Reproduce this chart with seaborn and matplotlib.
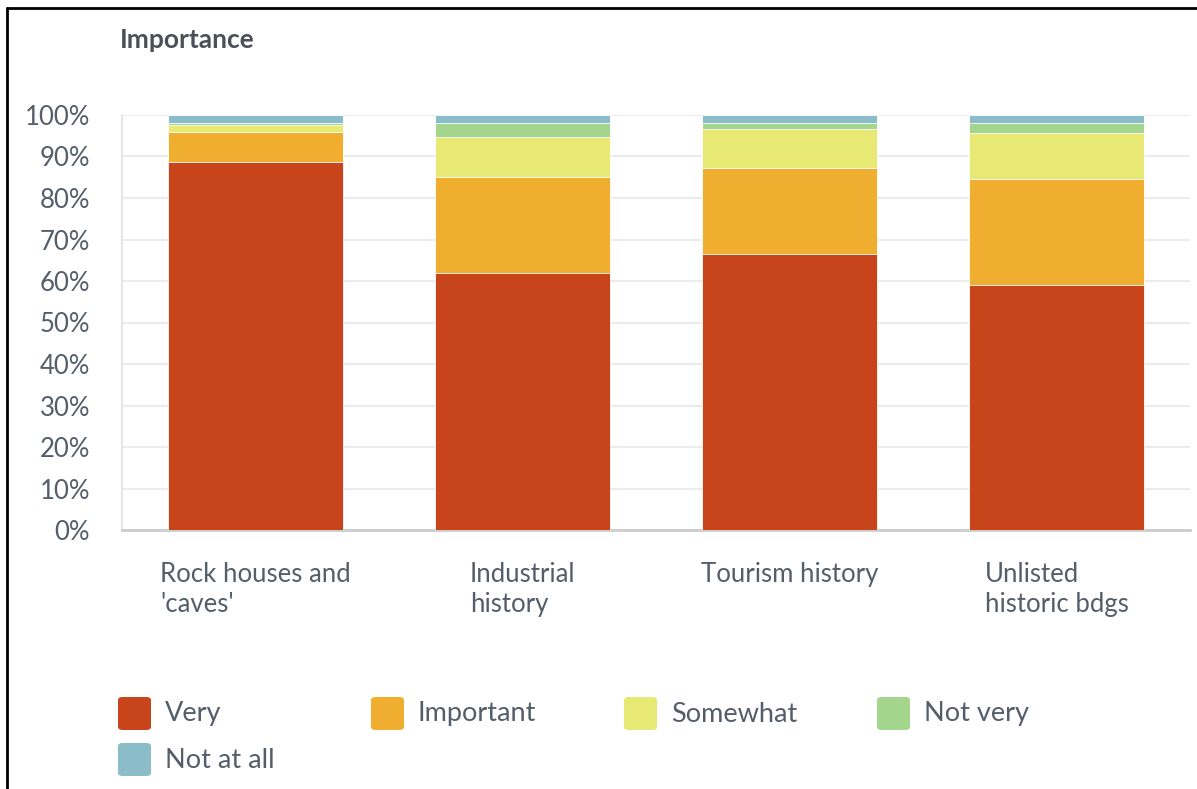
import matplotlib
matplotlib.use("Agg")
import matplotlib.pyplot as plt
from matplotlib.patches import FancyBboxPatch
from matplotlib.lines import Line2D
import seaborn as sns
import pandas as pd

categories = ["Rock houses and\n'caves'", "Industrial\nhistory", "Tourism history", "Unlisted\nhistoric bdgs"]
levels = ["Very", "Important", "Somewhat", "Not very", "Not at all"]
very = [88.7, 61.9, 66.5, 59.0]
important = [7.3, 23.2, 20.7, 25.5]
somewhat = [1.6, 9.5, 9.4, 11.1]
not_very = [0.4, 3.5, 1.5, 2.5]
not_at_all = [2.0, 1.9, 1.9, 1.9]
colors = ["#C8441A", "#F0AE30", "#E8E874", "#A3D68C", "#8BBDC8"]
yticks = [0, 10, 20, 30, 40, 50, 60, 70, 80, 90, 100]

series = [very, important, somewhat, not_very, not_at_all]

sns.set_theme(style="white")
plt.rcParams["font.family"] = ["Lato", "DejaVu Sans"]
text_color = "#545E6A"
fs = 18.5

W, H = 1197, 789
fig = plt.figure(figsize=(W / 100, H / 100), dpi=100)
ax = fig.add_axes([122 / W, 1 - 530 / H, (1190 - 122) / W, (530 - 115) / H])

# cumulative tops
rows = []
for i, cat in enumerate(categories):
    cum = 0
    for lvl, vals in zip(levels, series):
        cum += vals[i]
        rows.append({"cat": cat, "level": lvl, "top": cum})
df = pd.DataFrame(rows)

for lvl, col in reversed(list(zip(levels, colors))):
    sub = df[df["level"] == lvl]
    sns.barplot(data=sub, x="cat", y="top", color=col, width=0.655,
                order=categories, ax=ax, saturation=1, edgecolor="white",
                linewidth=0.6, zorder=3)

ax.set_ylim(0, 100)
ax.set_xlim(-0.5, len(categories) - 0.5)
ax.set_yticks(yticks)
ax.set_yticklabels([f"{v}%" for v in yticks])
ax.set_xlabel("")
ax.set_ylabel("")
ax.yaxis.grid(True, color="#EBEBEB", linewidth=1.5, zorder=0)
ax.set_axisbelow(True)
for s in ["top", "right"]:
    ax.spines[s].set_visible(False)
ax.spines["left"].set_color("#E6E6E6")
ax.spines["left"].set_linewidth(1.5)
ax.spines["bottom"].set_color("#CCCCCC")
ax.spines["bottom"].set_linewidth(2)
ax.tick_params(axis="y", length=0, pad=23, labelsize=fs, labelcolor=text_color)
ax.tick_params(axis="x", length=0, pad=23, labelsize=fs, labelcolor=text_color)
for lab in ax.get_xticklabels():
    lab.set_multialignment("left")
    lab.set_linespacing(1.25)
    lab.set_verticalalignment("top")

fig.text(120 / W, 1 - 40 / H, "Importance", fontsize=19, fontweight="bold",
         color="#4A5058", ha="left", va="center")

# legend
for i, (lvl, col) in enumerate(zip(levels, colors)):
    c, r = i % 4, i // 4
    x0 = 118 + c * 253
    yc = 714 + r * 46
    box = FancyBboxPatch(((x0) / W, 1 - (yc + 16) / H), 33 / W, 33 / H,
                         boxstyle="round,pad=0,rounding_size=0.004",
                         transform=fig.transFigure, facecolor=col,
                         edgecolor="none")
    fig.add_artist(box)
    fig.text((x0 + 47) / W, 1 - yc / H, lvl, fontsize=19.5, color=text_color,
             ha="left", va="center")

# frame lines
fig.add_artist(Line2D([7 / W, 1], [1 - 8 / H, 1 - 8 / H], color="black",
                      linewidth=2, transform=fig.transFigure))
fig.add_artist(Line2D([7 / W, 7 / W], [0, 1 - 8 / H], color="black",
                      linewidth=2, transform=fig.transFigure))

fig.savefig("out.png", dpi=100, facecolor="white")
